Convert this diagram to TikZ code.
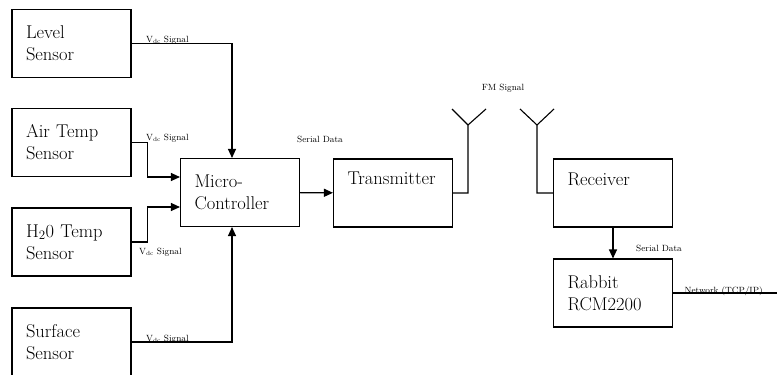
\documentclass[tikz,border=0pt]{standalone}
\usetikzlibrary{arrows.meta}

\begin{document}
\begin{tikzpicture}[x=1pt,y=-1pt,->,>={Triangle[length=9pt,width=8pt]},line width=1.1pt,
      block/.style={draw,line width=1.1pt,minimum width=119pt,minimum height=68pt,
      text width=91pt,inner sep=0pt,align=left,font=\fontsize{18.5}{22}\selectfont},
      sig/.style={font=\fontsize{9}{10}\selectfont,inner sep=0pt}]

      \useasboundingbox (0,0) rectangle (777,375);

      %% THESE ARE THE BLOCKS
      \node[block] (lvl) at (71.5,43.5) {Level\\Sensor};
      \node[block] (air) at (71.5,142.5) {Air Temp\\Sensor};
      \node[block] (hto) at (71.5,242) {H\textsubscript{2}0 Temp\\Sensor};
      \node[block] (sfc) at (71.5,342) {Surface\\Sensor};
      \node[block] (mcu) at (240,192.5) {Micro-\\Controller};
      \node[block] (tx) at (393,193) {Transmitter\\\strut};
      \node[block] (rx) at (613,193) {Receiver\\\strut};
      \node[block] (rcm) at (613,293) {Rabbit\\RCM2200};

      %% ANTENNA TIPS AND THE LOOSE END
      \coordinate (ant1) at (468,125);
      \coordinate (ant2) at (537,125);
      \coordinate (netend) at (777,293);

      %% THESE ARE THE CONNECTIONS
      \draw (lvl.east) -| ([xshift=-8pt]mcu.north);
      \draw (air.east) -- ++(16,0) |- ([yshift=15.5pt]mcu.west);
      \draw (hto.east) -- ++(16,0) |- ([yshift=-14.5pt]mcu.west);
      \draw (sfc.east) -| ([xshift=-8pt]mcu.south);
      \draw (mcu) -- (tx);
      \draw[-] (tx.east) -| (ant1) -- ++(-16,-16) (ant1) -- ++(18,-16);
      \draw[-] (rx.west) -| (ant2) -- ++(-17,-16) (ant2) -- ++(17,-16);
      \draw (rx) -- (rcm);
      \draw[-] (rcm.east) -- (netend);

      %% SIGNAL LABELS
      \node[sig,anchor=base west] (lvlsig) at ([xshift=14pt,yshift=1.5pt]lvl.east) {V\textsubscript{dc} Signal};
      \node[sig,anchor=base west] (airsig) at ([xshift=14pt,yshift=2pt]air.east) {V\textsubscript{dc} Signal};
      \node[sig,anchor=north west] (htosig) at ([xshift=7pt,yshift=-6pt]hto.east) {V\textsubscript{dc} Signal};
      \node[sig,anchor=base west] (sfcsig) at ([xshift=14pt,yshift=0.5pt]sfc.east) {V\textsubscript{dc} Signal};
      \node[sig] (serial) at (320,139) {Serial Data};
      \node[sig] (fm) at (503,88) {FM Signal};
      \node[sig] (serialrx) at (659,248) {Serial Data};
      \node[sig,anchor=base west] (net) at ([xshift=11pt]rcm.east) {Network (TCP/IP)};
\end{tikzpicture}
\end{document}
